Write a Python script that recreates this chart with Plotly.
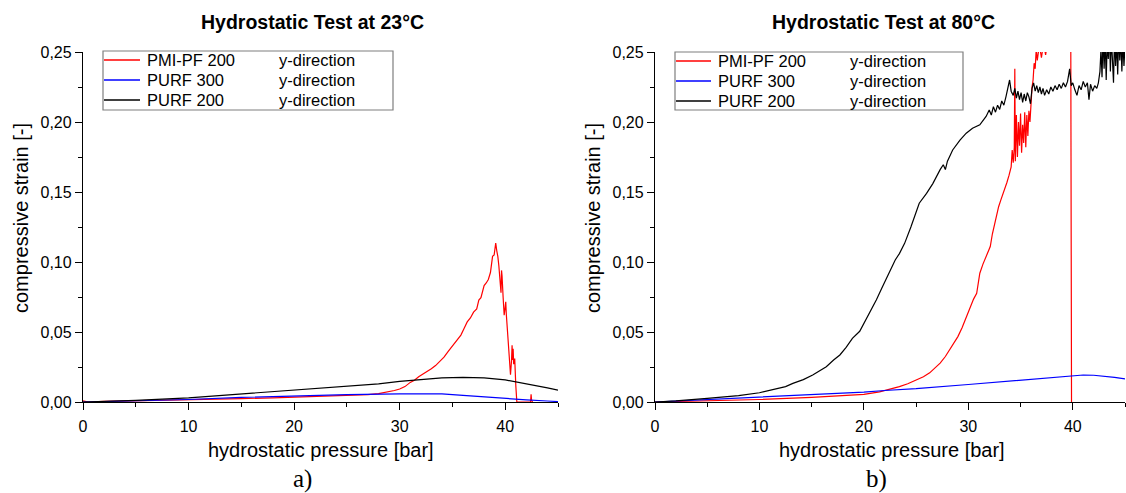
import plotly.graph_objects as go

# ---------------- data: Hydrostatic test at 23 °C ----------------
pmi23_p = [0.0, 0.5, 2, 5, 8, 10, 12, 15, 18, 20,
           22, 24, 26, 27, 28, 29, 29.5, 30.0, 30.5, 31.0,
           31.4, 31.8, 32.2, 32.6, 33.0, 33.4, 33.8, 34.2, 34.6, 35.0,
           35.4, 35.8, 36.1, 36.4, 36.7, 37.0, 37.3, 37.5, 37.7, 38.0,
           38.2, 38.4, 38.6, 38.8, 38.95, 39.1, 39.2, 39.3, 39.4, 39.5,
           39.6, 39.65, 39.7, 39.8, 39.9, 40.0, 40.05, 40.1, 40.2, 40.3,
           40.4, 40.5, 40.6, 40.65, 40.7, 40.75, 40.8, 40.9, 41.0, 41.1,
           41.6, 42.4, 42.45, 42.5, 42.6]
pmi23_s = [0.0008, 0.0, 0.0004, 0.0008, 0.0011, 0.0013, 0.0017, 0.0024, 0.003, 0.0035,
           0.0038, 0.0042, 0.0047, 0.0052, 0.006, 0.0072, 0.0082, 0.0093, 0.011, 0.014,
           0.0155, 0.018, 0.0198, 0.0215, 0.0238, 0.026, 0.0292, 0.032, 0.0362, 0.0398,
           0.0435, 0.0478, 0.0525, 0.0572, 0.06, 0.0642, 0.0665, 0.0728, 0.0745, 0.0832,
           0.085, 0.0875, 0.0925, 0.104, 0.105, 0.1135, 0.108, 0.104, 0.097, 0.088,
           0.078, 0.094, 0.09, 0.075, 0.062, 0.068, 0.0715, 0.063, 0.053, 0.043,
           0.033, 0.0195, 0.03, 0.0405, 0.03, 0.038, 0.027, 0.031, 0.012, 0.0,
           0.0, 0.0, 0.0055, 0.001, 0.0]

purf300_23_p = [0, 5, 10, 15, 20, 25, 30, 32, 34, 36, 38, 40, 42, 44, 45]
purf300_23_s = [0, 0.0008, 0.0018, 0.0033, 0.0044, 0.0052, 0.0058, 0.006, 0.0058,
                0.0048, 0.0036, 0.0025, 0.0015, 0.0007, 0.0003]

purf200_23_p = [0, 5, 10, 15, 20, 25, 28, 30, 32, 34, 36, 38, 40, 42, 44, 45]
purf200_23_s = [0, 0.0012, 0.003, 0.0058, 0.0085, 0.0112, 0.013, 0.0148, 0.0162,
                0.0172, 0.0176, 0.0172, 0.0158, 0.0132, 0.0101, 0.0085]

# ---------------- data: Hydrostatic test at 80 °C ----------------
pmi80_p = [0, 5, 10, 15, 18, 20, 21.5, 22.5, 23.4, 24.2,
           25.0, 25.7, 26.3, 26.8, 27.3, 27.8, 28.2, 28.6, 29.0, 29.4,
           29.7, 30.0, 30.2, 30.5, 30.8, 30.95, 31.1, 31.4, 31.7, 31.9,
           32.1, 32.3, 32.5, 32.7, 32.9, 33.1, 33.3, 33.5, 33.7, 33.9,
           34.1, 34.2, 34.3, 34.4, 34.45, 34.5, 34.6, 34.7, 34.8, 34.9,
           35.0, 35.1, 35.2, 35.3, 35.4, 35.5, 35.6, 35.7, 35.8, 35.9,
           36.0, 36.1, 36.2, 36.3, 36.4, 36.5, 36.6, 36.8, 37.0, 37.2,
           37.4, 37.6, 38.0, 39.0, 39.8, 39.82, 39.88]
pmi80_s = [0, 0.0008, 0.0018, 0.0033, 0.0043, 0.0055, 0.0072, 0.009, 0.011, 0.013,
           0.0155, 0.018, 0.0208, 0.024, 0.0278, 0.0325, 0.037, 0.0415, 0.0467, 0.053,
           0.0586, 0.065, 0.069, 0.0735, 0.0776, 0.086, 0.092, 0.0985, 0.104, 0.108,
           0.111, 0.12, 0.127, 0.134, 0.1395, 0.144, 0.148, 0.152, 0.157, 0.162,
           0.168, 0.18, 0.171, 0.182, 0.238, 0.172, 0.205, 0.175, 0.2, 0.183,
           0.206, 0.178, 0.198, 0.185, 0.207, 0.182, 0.205, 0.19, 0.208, 0.2,
           0.215, 0.225, 0.23, 0.242, 0.238, 0.252, 0.244, 0.255, 0.246, 0.256,
           0.248, 0.258, 0.27, 0.285, 0.29, 0.05, 0.0]

purf300_80_p = [0, 5, 10, 15, 20, 22, 25, 30, 35, 38, 40, 41, 42, 43, 44, 45]
purf300_80_s = [0, 0.0017, 0.0034, 0.0052, 0.0071, 0.0082, 0.0095, 0.0125, 0.0155,
                0.0175, 0.0188, 0.0193, 0.0191, 0.0185, 0.0176, 0.0165]

purf200_80_p = [0, 2, 5, 8, 10, 11.5, 12.5, 13.2, 14.2, 15.1,
                16.4, 17.1, 17.7, 18.3, 18.9, 19.6, 20.2, 20.7, 21.2, 21.7,
                22.2, 22.6, 23.0, 23.4, 23.9, 24.5, 25.3, 26.0, 26.6, 27.3,
                27.6, 27.8, 28.0, 28.5, 29.2, 29.8, 30.4, 31.1, 31.7, 32.0,
                32.2, 32.4, 32.6, 32.8, 33.0, 33.2, 33.4, 33.6, 33.8, 33.95,
                34.1, 34.3, 34.45, 34.6, 34.75, 34.9, 35.05, 35.2, 35.35, 35.5,
                35.65, 35.8, 35.95, 36.1, 36.25, 36.4, 36.55, 36.7, 36.85, 37.0,
                37.15, 37.3, 37.5, 37.7, 37.9, 38.1, 38.3, 38.5, 38.7, 38.9,
                39.1, 39.3, 39.5, 39.7, 39.85, 40.0, 40.2, 40.4, 40.6, 40.8,
                41.0, 41.2, 41.4, 41.55, 41.7, 41.9, 42.1, 42.3, 42.45, 42.6,
                42.7, 42.8, 42.9, 43.0, 43.1, 43.2, 43.3, 43.4, 43.5, 43.6,
                43.7, 43.8, 43.9, 44.0, 44.1, 44.2, 44.3, 44.4, 44.5, 44.6,
                44.7, 44.8, 44.9, 45.0]
purf200_80_s = [0, 0.0008, 0.0026, 0.0045, 0.0066, 0.009, 0.011, 0.0133, 0.016, 0.0193,
                0.0252, 0.03, 0.0336, 0.039, 0.0455, 0.0505, 0.0586, 0.066, 0.073, 0.081,
                0.0886, 0.095, 0.1014, 0.106, 0.1133, 0.125, 0.142, 0.149, 0.156, 0.166,
                0.1695, 0.166, 0.172, 0.18, 0.187, 0.192, 0.1955, 0.198, 0.204, 0.2086,
                0.205, 0.211, 0.207, 0.212, 0.209, 0.215, 0.212, 0.218, 0.224, 0.23,
                0.222, 0.219, 0.224, 0.217, 0.222, 0.216, 0.221, 0.214, 0.22, 0.215,
                0.221, 0.218, 0.213, 0.224, 0.228, 0.222, 0.226, 0.221, 0.225, 0.22,
                0.224, 0.219, 0.223, 0.22, 0.225, 0.222, 0.226, 0.223, 0.227, 0.224,
                0.228, 0.225, 0.229, 0.238, 0.226, 0.228, 0.223, 0.219, 0.226, 0.223,
                0.229, 0.225, 0.228, 0.216, 0.227, 0.222, 0.226, 0.224, 0.228, 0.236,
                0.252, 0.232, 0.262, 0.238, 0.26, 0.23, 0.258, 0.245, 0.265, 0.236,
                0.26, 0.242, 0.228, 0.262, 0.24, 0.258, 0.234, 0.262, 0.244, 0.26,
                0.236, 0.258, 0.24, 0.255]

series_names = ["PMI-PF 200", "PURF 300", "PURF 200"]
series_dir = ["y-direction", "y-direction", "y-direction"]
series_colors = ["#FF0000", "#0000FF", "#000000"]

panel_titles = ["Hydrostatic Test at 23°C", "Hydrostatic Test at 80°C"]
panel_labels = ["a)", "b)"]
x_title = "hydrostatic pressure [bar]"
y_title = "compressive strain [-]"

panels = [
    [(pmi23_p, pmi23_s), (purf300_23_p, purf300_23_s), (purf200_23_p, purf200_23_s)],
    [(pmi80_p, pmi80_s), (purf300_80_p, purf300_80_s), (purf200_80_p, purf200_80_s)],
]

# ---------------- layout geometry (pixels of a 1126 x 493 canvas) ----------------
W, H = 1126, 493
def px(x):
    return x / W
def py(y):
    return 1 - y / H

x_domains = [[px(83), px(558)], [px(655), px(1125)]]
y_domain = [py(402), py(52)]

FONT = "Liberation Sans, Arial, sans-serif"

fig = go.Figure()
for i, panel in enumerate(panels):
    xa = "x" if i == 0 else "x2"
    ya = "y" if i == 0 else "y2"
    for (p, s), name, col in zip(panel, series_names, series_colors):
        fig.add_trace(go.Scatter(x=p, y=s, mode="lines", name=name,
                                 line=dict(color=col, width=1.2),
                                 xaxis=xa, yaxis=ya, showlegend=False))

axis_common = dict(showline=True, linecolor="black", linewidth=1.3,
                   ticks="outside", ticklen=7, tickwidth=1.2, tickcolor="black",
                   showgrid=False, zeroline=False, automargin=False,
                   tickfont=dict(family=FONT, size=16, color="black"))

for i in range(2):
    sfx = "" if i == 0 else "2"
    fig.update_layout(**{
        "xaxis" + sfx: dict(axis_common, domain=x_domains[i], range=[0, 45],
                            anchor="y" + sfx, tick0=0, dtick=10, ticklabelstandoff=3,
                            minor=dict(ticks="outside", ticklen=4, dtick=5,
                                       tickcolor="black", tickwidth=1.2)),
        "yaxis" + sfx: dict(axis_common, domain=y_domain, range=[0, 0.25],
                            anchor="x" + sfx, tick0=0, dtick=0.05,
                            tickformat=".2f",
                            minor=dict(ticks="outside", ticklen=4, dtick=0.025,
                                       tickcolor="black", tickwidth=1.2)),
    })

# titles, axis titles and panel labels
title_x = [312, 883]
xtitle_x = [321, 892]
ytitle_x = [21, 593]
label_x = [302, 876]
for i in range(2):
    fig.add_annotation(x=px(title_x[i]), y=py(22), xref="paper", yref="paper",
                       text="<b>" + panel_titles[i] + "</b>", showarrow=False,
                       xanchor="center", yanchor="middle",
                       font=dict(family=FONT, size=19.5, color="black"))
    fig.add_annotation(x=px(xtitle_x[i]), y=py(450), xref="paper", yref="paper",
                       text=x_title, showarrow=False,
                       xanchor="center", yanchor="middle",
                       font=dict(family=FONT, size=20, color="black"))
    fig.add_annotation(x=px(ytitle_x[i]), y=py(218), xref="paper", yref="paper",
                       text=y_title, showarrow=False, textangle=-90,
                       xanchor="center", yanchor="middle",
                       font=dict(family=FONT, size=20, color="black"))
    fig.add_annotation(x=px(label_x[i]), y=py(479), xref="paper", yref="paper",
                       text=panel_labels[i], showarrow=False,
                       xanchor="center", yanchor="middle",
                       font=dict(family="Liberation Serif, Times New Roman, serif",
                                 size=25, color="black"))

# legends (drawn as boxes with line samples)
legend_geo = [
    dict(x0=103, x1=393, y0=51, y1=110, lx0=104, lx1=140, tx=145, dx=277, rows=[60, 80, 100]),
    dict(x0=675, x1=963, y0=52, y1=110, lx0=676, lx1=711, tx=716, dx=848, rows=[61, 81, 101]),
]
for g in legend_geo:
    fig.add_shape(type="rect", xref="paper", yref="paper",
                  x0=px(g["x0"]), x1=px(g["x1"]), y0=py(g["y1"]), y1=py(g["y0"]),
                  line=dict(color="#7f7f7f", width=1.2), fillcolor="white", layer="above")
    for r, name, d, col in zip(g["rows"], series_names, series_dir, series_colors):
        fig.add_shape(type="line", xref="paper", yref="paper",
                      x0=px(g["lx0"]), x1=px(g["lx1"]), y0=py(r), y1=py(r),
                      line=dict(color=col, width=1.3), layer="above")
        fig.add_annotation(x=px(g["tx"]), y=py(r), xref="paper", yref="paper",
                           text=name, showarrow=False, xanchor="left", yanchor="middle",
                           font=dict(family=FONT, size=16.5, color="black"))
        fig.add_annotation(x=px(g["dx"]), y=py(r), xref="paper", yref="paper",
                           text=d, showarrow=False, xanchor="left", yanchor="middle",
                           font=dict(family=FONT, size=16.5, color="black"))

fig.update_layout(template="none", width=W, height=H, autosize=False,
                  margin=dict(l=0, r=0, t=0, b=0, pad=0),
                  paper_bgcolor="white", plot_bgcolor="white",
                  separators=",.", showlegend=False,
                  font=dict(family=FONT, color="black"))

fig.write_html("out.html", config={"displayModeBar": False},
               post_script="document.body.style.margin='0px';")
